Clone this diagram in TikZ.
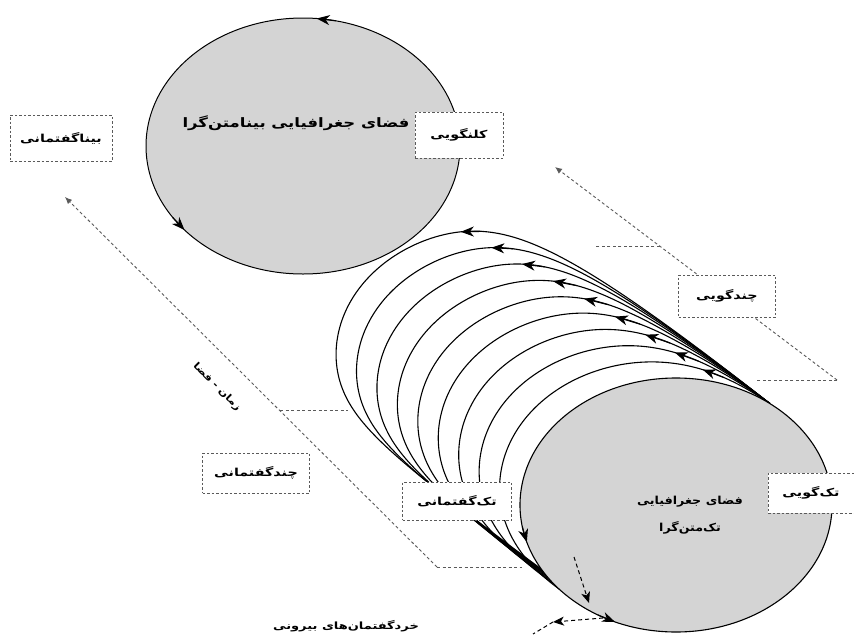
\documentclass[tikz,border=0pt]{standalone}
\usepackage{fontspec}
\usepackage{graphicx}
\newfontfamily\fa[Script=Arabic]{DejaVu Sans}
\TeXXeTstate=1
\usetikzlibrary{arrows.meta,calc}
\definecolor{shade}{RGB}{212,212,212}
\definecolor{dgray}{RGB}{90,90,90}
\newcommand{\fat}[2][1]{\scalebox{#1}[1]{\fa\bfseries\beginR #2\endR}}
\begin{document}
\begin{tikzpicture}[x=1pt,y=-1pt,
  declare function={
    ex(\t)=676+156*cos(\t);
    ey(\t)=505-127*sin(\t);
    ff(\t)=(-0.8045*(ex(\t)-769.9)-0.5938*(ey(\t)-403.6))/161.7;
    hh(\t)=1-ff(\t);
    gg(\t)=1-hh(\t)*hh(\t)*hh(\t)*hh(\t);
    ringx(\k,\t)=ex(\t)-184*\k/9*gg(\t);
    ringy(\k,\t)=ey(\t)-150*\k/9*gg(\t);
    tx(\t)=303+157*cos(\t);
    ty(\t)=146-128*sin(\t);
  },
  ring/.style={line width=1.1pt},
  tip/.style={-{Stealth[length=13pt,width=10pt,inset=4pt]}, line width=1.1pt},
  dline/.style={draw=dgray, dash pattern=on 3pt off 2.5pt, line width=0.9pt},
  dtip/.style={-{Latex[length=7pt,width=6pt]}},
  btip/.style={-{Stealth[length=11pt,width=9pt,inset=3pt]}, draw=black, dash pattern=on 4pt off 3pt, line width=1pt},
  lbl/.style={draw=dgray, dash pattern=on 2.5pt off 2pt, line width=0.8pt, fill=white, inner sep=0pt, font=\fontsize{11}{13}\selectfont},
  ttl/.style={font=\fontsize{13}{16}\selectfont},
  sub/.style={font=\fontsize{11}{13}\selectfont},
]
\useasboundingbox (0,0) rectangle (854,635);

% dashed axes
\coordinate (Ltip) at (65,197);
\coordinate (L0) at (437,567);
\coordinate (L1) at ($(Ltip)!0.578!(L0)$);
\coordinate (L1e) at (348,0);
\coordinate (L0e) at (522,567);
\draw[dline,dtip] (L0) -- (Ltip);
\draw[dline] (L1) -- (L1e |- L1);
\draw[dline] (L0) -- (L0e);

\coordinate (Rtip) at (555,167);
\coordinate (R0) at (837,380);
\coordinate (R1) at ($(Rtip)!0.372!(R0)$);
\coordinate (R1e) at (595,0);
\coordinate (R0e) at (757,0);
\draw[dline,dtip] (R0) -- (Rtip);
\draw[dline] (R1) -- (R1e |- R1);
\draw[dline] (R0) -- (R0e |- R0);

% rings
\foreach \k in {9,...,1} {
  \pgfmathsetmacro\ta{74+(\k-1)*3.5}
  \pgfmathsetmacro\tb{\ta-7}
  \draw[ring] plot[domain=53:245, samples=120, variable=\t, smooth] ({ringx(\k,\t)},{ringy(\k,\t)});
  \pgfmathsetmacro\ax{ringx(\k,\tb)}
  \pgfmathsetmacro\ay{ringy(\k,\tb)}
  \pgfmathsetmacro\bx{ringx(\k,\ta)}
  \pgfmathsetmacro\by{ringy(\k,\ta)}
  \draw[tip] (\ax,\ay) -- (\bx,\by);
}

% top ellipse
\draw[fill=shade, line width=1pt] (303,146) ellipse [x radius=157pt, y radius=128pt];
\draw[tip] ({tx(78)},{ty(78)}) -- ({tx(85)},{ty(85)});
\draw[tip] ({tx(214)},{ty(214)}) -- ({tx(221)},{ty(221)});

% bottom ellipse
\draw[fill=shade, line width=1.1pt] (676,505) ellipse [x radius=156pt, y radius=127pt];
\draw[tip] ({ex(190)},{ey(190)}) -- ({ex(197)},{ey(197)});
\draw[tip] ({ex(240)},{ey(240)}) -- ({ex(247)},{ey(247)});

% small dashed arrows (external micro-discourses)
\coordinate (V0) at (574,557);
\coordinate (V1) at (589,603);
\draw[btip] (V0) -- (V1);
\coordinate (H2) at (603,618);
\coordinate (H1) at (553,622);
\coordinate (H0) at (533,634);
\draw[btip] (H2) -- (H1);
\draw[draw=black, dash pattern=on 4pt off 3pt, line width=1pt] (H1) -- (H0);

% boxes
\node[lbl, minimum width=102pt, minimum height=46pt] (bina) at (61,138) {\fat[1.3]{بیناگفتمانی}};
\node[lbl, minimum width=88pt, minimum height=46pt] (kol) at (459,135) {\fat[1.3]{کلنگویی}};
\node[lbl, minimum width=97pt, minimum height=42pt] (chg) at (727,296) {\fat[1.3]{چندگویی}};
\node[lbl, minimum width=107pt, minimum height=40pt] (chgf) at (256,473) {\fat[1.3]{چندگفتمانی}};
\node[lbl, minimum width=109pt, minimum height=38pt] (tkgf) at (457,501) {\fat[1.3]{تک‌گفتمانی}};
\node[lbl, minimum width=86pt, minimum height=40pt] (tkg) at (811,493) {\fat[1.3]{تک‌گویی}};

% texts
\node[ttl] (t1) at (296,123) {\fat[1.27]{فضای جغرافیایی بینامتن‌گرا}};
\node[sub] (t2) at (690,502) {\fat[1.15]{فضای جغرافیایی}};
\node[sub] (t3) at (690,528) {\fat[1.15]{تک‌متن‌گرا}};
\node[font=\fontsize{9.5}{11}\selectfont, rotate=-45] (zf) at (217,387) {\fat[1.2]{زمان - فضا}};
\node[font=\fontsize{10}{12}\selectfont] (khr) at (346,626) {\fat[1.3]{خردگفتمان‌های بیرونی}};
\end{tikzpicture}
\end{document}
